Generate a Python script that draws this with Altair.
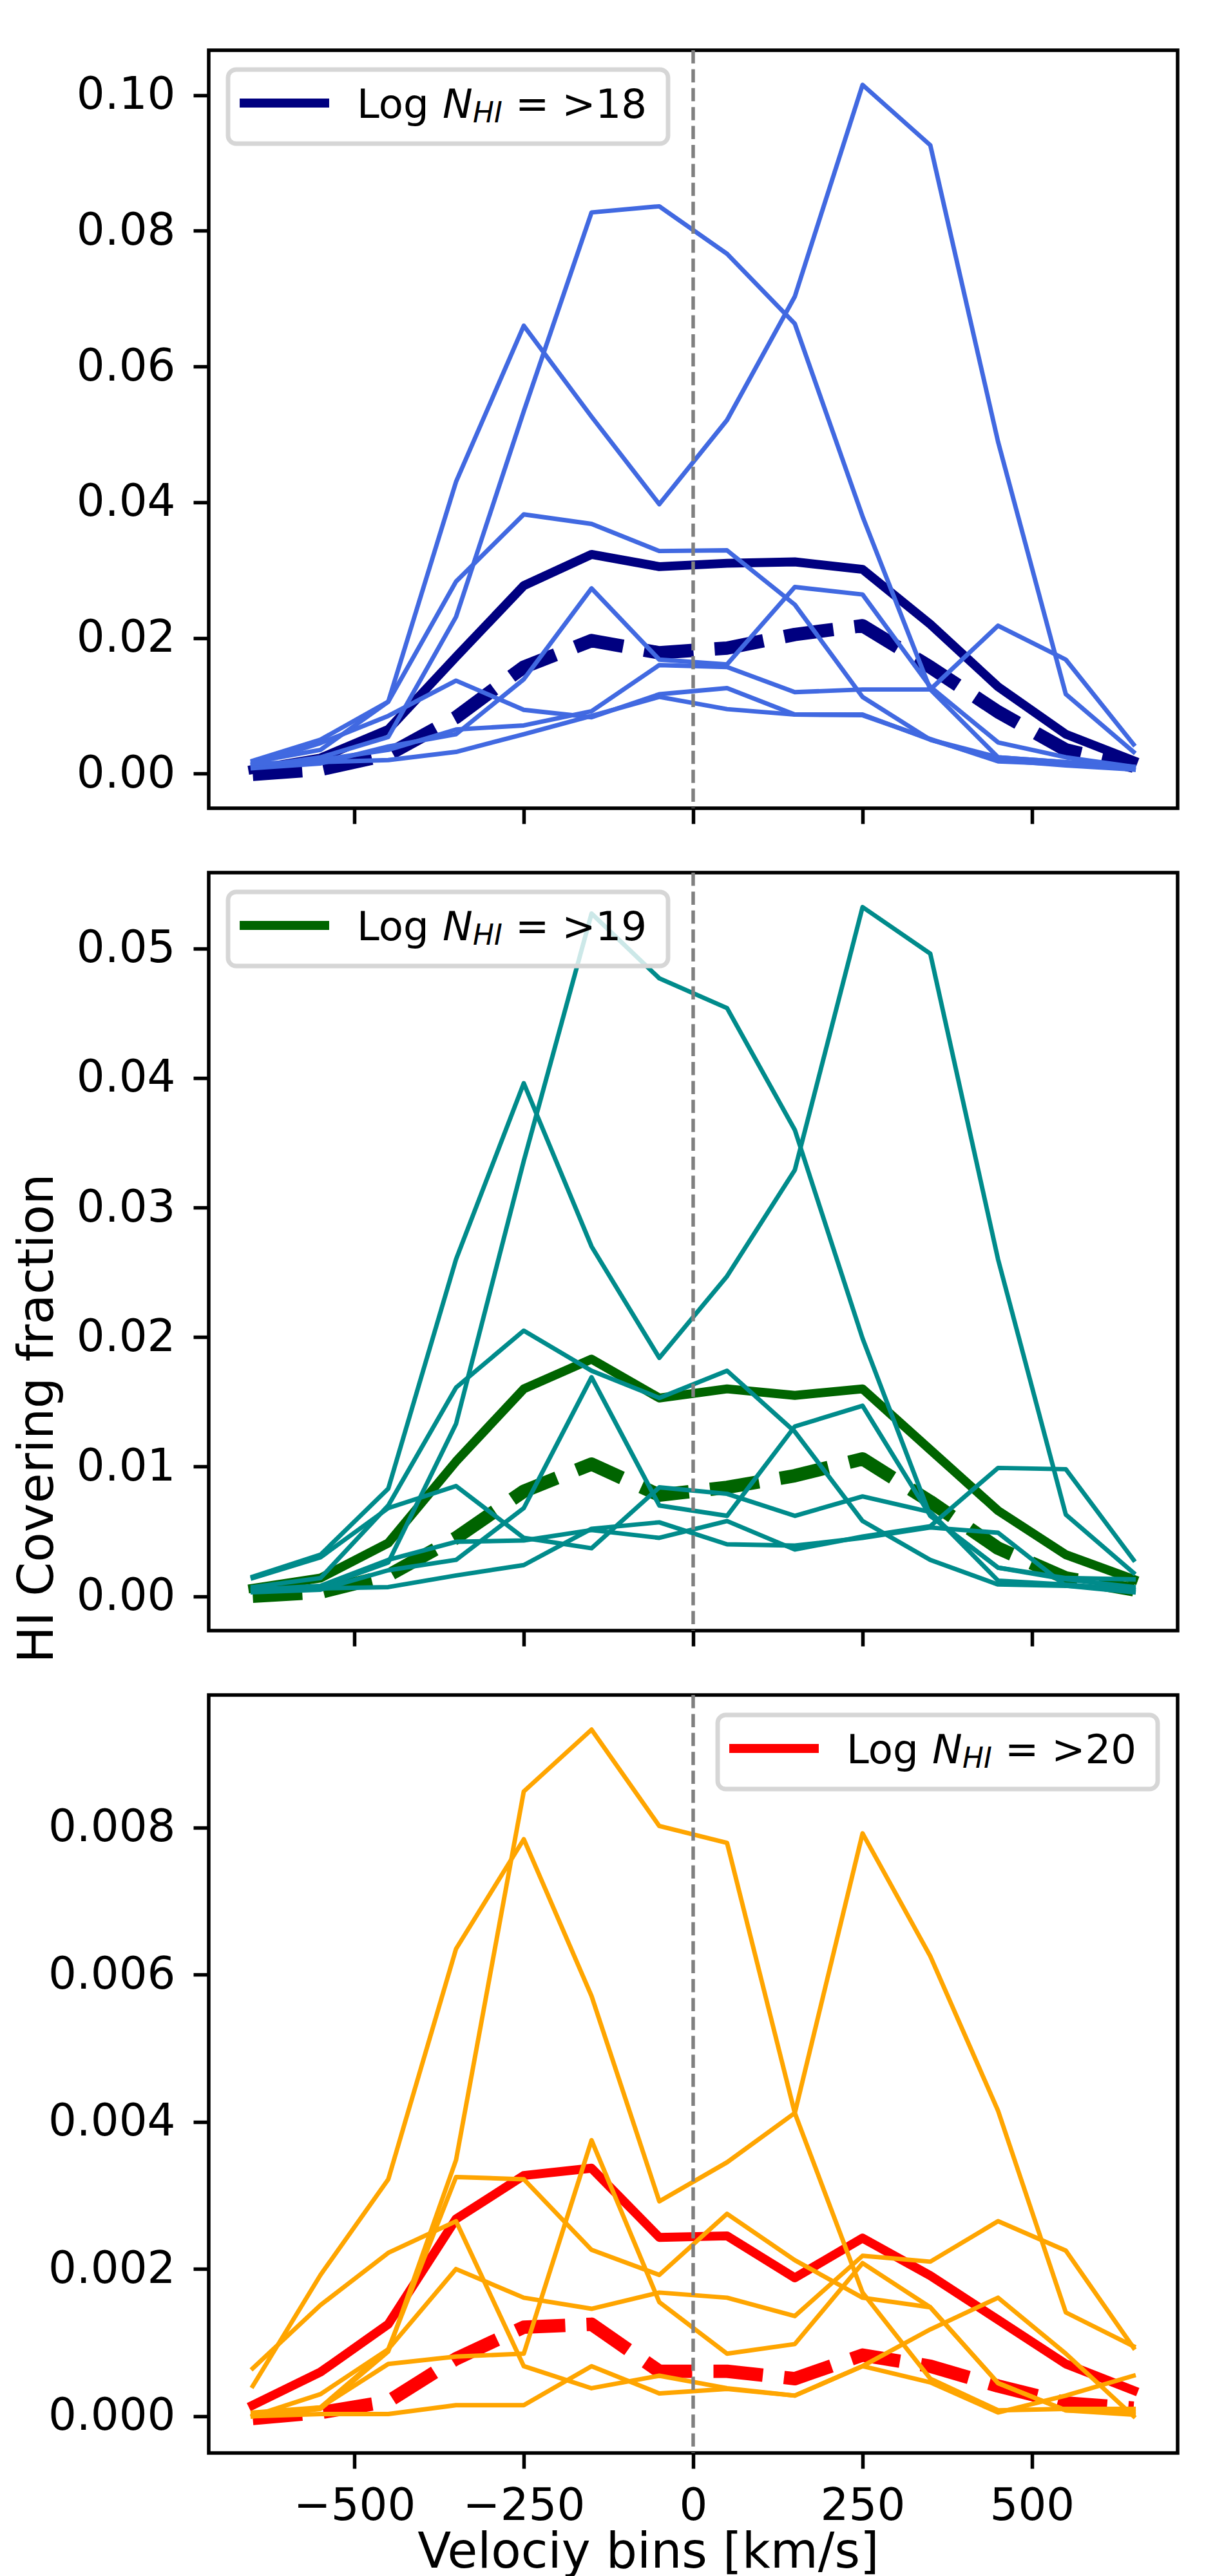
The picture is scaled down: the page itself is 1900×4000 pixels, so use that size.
import altair as alt
import pandas as pd

# ---------------- data ----------------
velocity = [-650, -550, -450, -350, -250, -150, -50, 50, 150, 250, 350, 450, 550, 650]

# panel 1: Log N_HI > 18
solid18 = [0.0006, 0.0023, 0.0065, 0.0172, 0.0277, 0.0323, 0.0305, 0.0310, 0.0312, 0.0301, 0.0220, 0.0128, 0.0058, 0.0019]
dashed18 = [-0.0001, 0.0006, 0.0028, 0.0083, 0.0157, 0.0196, 0.0178, 0.0185, 0.0205, 0.0218, 0.0157, 0.0091, 0.0035, 0.0011]
thin18_a = [0.0017, 0.0035, 0.0106, 0.0430, 0.0660, 0.0526, 0.0397, 0.0521, 0.0703, 0.1015, 0.0926, 0.0489, 0.0117, 0.0032]
thin18_b = [0.0010, 0.0024, 0.0054, 0.0231, 0.0534, 0.0827, 0.0836, 0.0766, 0.0663, 0.0379, 0.0124, 0.0024, 0.0017, 0.0006]
thin18_c = [0.0019, 0.0050, 0.0106, 0.0283, 0.0382, 0.0368, 0.0328, 0.0329, 0.0249, 0.0113, 0.0050, 0.0024, 0.0017, 0.0010]
thin18_d = [0.0008, 0.0015, 0.0040, 0.0058, 0.0139, 0.0273, 0.0168, 0.0161, 0.0275, 0.0264, 0.0128, 0.0046, 0.0024, 0.0010]
thin18_e = [0.0014, 0.0045, 0.0085, 0.0137, 0.0094, 0.0083, 0.0117, 0.0126, 0.0087, 0.0087, 0.0050, 0.0020, 0.0012, 0.0006]
thin18_f = [0.0012, 0.0020, 0.0035, 0.0065, 0.0071, 0.0092, 0.0160, 0.0157, 0.0120, 0.0124, 0.0124, 0.0218, 0.0168, 0.0043]
thin18_g = [0.0015, 0.0017, 0.0020, 0.0032, 0.0058, 0.0085, 0.0113, 0.0095, 0.0087, 0.0086, 0.0051, 0.0018, 0.0014, 0.0008]

# panel 2: Log N_HI > 19
solid19 = [0.0006, 0.0014, 0.0041, 0.0104, 0.0160, 0.0183, 0.0153, 0.0160, 0.0155, 0.0160, 0.0113, 0.0066, 0.0032, 0.0013]
dashed19 = [0.0000, 0.0003, 0.0016, 0.0045, 0.0081, 0.0102, 0.0078, 0.0084, 0.0093, 0.0106, 0.0073, 0.0037, 0.0014, 0.0005]
thin19_a = [0.0015, 0.0032, 0.0083, 0.0260, 0.0396, 0.0270, 0.0184, 0.0247, 0.0329, 0.0532, 0.0496, 0.0260, 0.0063, 0.0018]
thin19_b = [0.0005, 0.0007, 0.0026, 0.0133, 0.0336, 0.0527, 0.0477, 0.0454, 0.0360, 0.0199, 0.0062, 0.0022, 0.0014, 0.0013]
thin19_c = [0.0007, 0.0014, 0.0070, 0.0161, 0.0205, 0.0174, 0.0153, 0.0174, 0.0127, 0.0058, 0.0028, 0.0009, 0.0008, 0.0005]
thin19_d = [0.0003, 0.0005, 0.0020, 0.0028, 0.0068, 0.0169, 0.0070, 0.0062, 0.0131, 0.0147, 0.0062, 0.0022, 0.0013, 0.0007]
thin19_e = [0.0014, 0.0030, 0.0068, 0.0085, 0.0045, 0.0037, 0.0084, 0.0079, 0.0062, 0.0077, 0.0065, 0.0012, 0.0009, 0.0005]
thin19_f = [0.0005, 0.0008, 0.0028, 0.0042, 0.0043, 0.0051, 0.0045, 0.0058, 0.0036, 0.0046, 0.0054, 0.0099, 0.0098, 0.0028]
thin19_g = [0.0006, 0.0006, 0.0007, 0.0016, 0.0024, 0.0052, 0.0057, 0.0040, 0.0039, 0.0045, 0.0053, 0.0049, 0.0008, 0.0003]

# panel 3: Log N_HI > 20
solid20 = [0.00015, 0.00060, 0.00125, 0.00268, 0.00327, 0.00337, 0.00243, 0.00245, 0.00188, 0.00242, 0.00191, 0.00131, 0.00071, 0.00035]
dashed20 = [-0.00003, 0.00005, 0.00020, 0.00078, 0.00121, 0.00125, 0.00061, 0.00061, 0.00051, 0.00083, 0.00068, 0.00041, 0.00018, 0.00011]
thin20_a = [0.00041, 0.00192, 0.00322, 0.00635, 0.00784, 0.00571, 0.00292, 0.00345, 0.00412, 0.00792, 0.00625, 0.00415, 0.00141, 0.00095]
thin20_b = [0.00000, 0.00010, 0.00088, 0.00348, 0.00849, 0.00933, 0.00802, 0.00779, 0.00412, 0.00168, 0.00051, 0.00008, 0.00010, 0.00010]
thin20_c = [0.00000, 0.00012, 0.00091, 0.00325, 0.00322, 0.00226, 0.00192, 0.00275, 0.00212, 0.00161, 0.00148, 0.00045, 0.00008, 0.00005]
thin20_d = [0.00005, 0.00012, 0.00071, 0.00081, 0.00085, 0.00375, 0.00155, 0.00085, 0.00098, 0.00208, 0.00148, 0.00045, 0.00008, 0.00002]
thin20_e = [0.00000, 0.00030, 0.00091, 0.00200, 0.00161, 0.00146, 0.00168, 0.00161, 0.00136, 0.00218, 0.00210, 0.00265, 0.00225, 0.00093]
thin20_f = [0.00065, 0.00151, 0.00222, 0.00265, 0.00068, 0.00038, 0.00055, 0.00038, 0.00028, 0.00068, 0.00118, 0.00161, 0.00085, 0.00000]
thin20_g = [0.00000, 0.00003, 0.00003, 0.00015, 0.00015, 0.00068, 0.00031, 0.00037, 0.00028, 0.00068, 0.00046, 0.00005, 0.00028, 0.00055]

x_ticks = [-500, -250, 0, 250, 500]
y_ticks_18 = [0.0, 0.02, 0.04, 0.06, 0.08, 0.10]
y_ticks_19 = [0.0, 0.01, 0.02, 0.03, 0.04, 0.05]
y_ticks_20 = [0.0, 0.002, 0.004, 0.006, 0.008]
legend_thresholds = [">18", ">19", ">20"]
x_title = "Velociy bins [km/s]"
y_title = "HI Covering fraction"

# ---------------- styling ----------------
FONT = "DejaVu Sans"
PW, PH = 1504, 1177
LW_THIN = 6.94
LW_SOLID = 13.9
LW_DASH = 20.8
LEG_FS = 62.5


def long_df(series_list):
    rows = []
    for i, s in enumerate(series_list):
        for v, f in zip(velocity, s):
            rows.append({"v": v, "f": f, "s": "s%d" % i})
    return pd.DataFrame(rows)


one = pd.DataFrame({"k": [0]})


def panel(thin, solid, dashed, thin_color, thick_color, ydomain, yticks, yfmt,
          thr, box_x, box_y, last=False, with_ytitle=False):
    xaxis_kw = dict(values=x_ticks, labels=last, ticks=True, tickSize=24, labelLimit=0)
    if last:
        xaxis_kw.update(title=x_title, titleX=682, titleY=177, titleAlign="center",
                        titleBaseline="alphabetic", titleAnchor="start", labelPadding=24)
    else:
        xaxis_kw.update(title=None)
    x_enc = alt.X("v:Q", scale=alt.Scale(domain=[-715, 715], nice=False, zero=False),
                  axis=alt.Axis(**xaxis_kw))

    yaxis_kw = dict(values=yticks, format=yfmt, tickSize=24, labelPadding=28, labelLimit=0)
    if with_ytitle:
        yaxis_kw.update(title=y_title, titleX=-243, titleY=847, titleAngle=270,
                        titleAlign="center", titleBaseline="alphabetic")
    else:
        yaxis_kw.update(title=None)
    y_enc = alt.Y("f:Q", scale=alt.Scale(domain=ydomain, nice=False, zero=False),
                  axis=alt.Axis(**yaxis_kw))

    solid_l = alt.Chart(long_df([solid])).mark_line(
        color=thick_color, strokeWidth=LW_SOLID, strokeJoin="round", strokeCap="square"
    ).encode(x=x_enc, y=y_enc, detail="s:N")
    dashed_l = alt.Chart(long_df([dashed])).mark_line(
        color=thick_color, strokeWidth=LW_DASH, strokeDash=[77, 33], strokeJoin="round",
        strokeCap="butt"
    ).encode(x=x_enc, y=y_enc, detail="s:N")
    thin_l = alt.Chart(long_df(thin)).mark_line(
        color=thin_color, strokeWidth=LW_THIN, strokeJoin="round", strokeCap="square"
    ).encode(x=x_enc, y=y_enc, detail="s:N")
    zero_rule = alt.Chart(pd.DataFrame({"v": [0]})).mark_rule(
        color="gray", strokeWidth=5.5, strokeDash=[20.5, 8.9]
    ).encode(x=x_enc)

    # legend (matplotlib style, with mathtext-like label)
    box = alt.Chart(one).mark_rect(
        fill="white", fillOpacity=0.8, stroke="#d6d6d6", strokeWidth=6.9, cornerRadius=12.5
    ).encode(x=alt.value(box_x), x2=alt.value(box_x + 683),
             y=alt.value(box_y), y2=alt.value(box_y + 115))
    sample = alt.Chart(one).mark_rule(color=thick_color, strokeWidth=LW_SOLID,
                                      strokeCap="square").encode(
        x=alt.value(box_x + 25), x2=alt.value(box_x + 150), y=alt.value(box_y + 52))
    t_log = alt.Chart(one).mark_text(
        text="Log", align="left", baseline="alphabetic", font=FONT, fontSize=LEG_FS,
        color="black"
    ).encode(x=alt.value(box_x + 200), y=alt.value(box_y + 75))
    t_n = alt.Chart(one).mark_text(
        text="N", align="left", baseline="alphabetic", font=FONT, fontSize=LEG_FS,
        fontStyle="italic", color="black"
    ).encode(x=alt.value(box_x + 333), y=alt.value(box_y + 75))
    t_hi = alt.Chart(one).mark_text(
        text="HI", align="left", baseline="alphabetic", font=FONT, fontSize=LEG_FS * 0.7,
        fontStyle="italic", color="black"
    ).encode(x=alt.value(box_x + 380), y=alt.value(box_y + 82))
    t_eq = alt.Chart(one).mark_text(
        text="= " + thr, align="left", baseline="alphabetic", font=FONT, fontSize=LEG_FS,
        color="black"
    ).encode(x=alt.value(box_x + 446), y=alt.value(box_y + 75))

    return alt.layer(solid_l, dashed_l, thin_l, zero_rule, box, sample, t_log, t_n, t_hi, t_eq
                     ).properties(width=PW, height=PH)


p1 = panel([thin18_a, thin18_b, thin18_c, thin18_d, thin18_e, thin18_f, thin18_g],
           solid18, dashed18, "royalblue", "navy", [-0.0051, 0.1066], y_ticks_18, ".2f",
           legend_thresholds[0], 30, 30)
p2 = panel([thin19_a, thin19_b, thin19_c, thin19_d, thin19_e, thin19_f, thin19_g],
           solid19, dashed19, "darkcyan", "darkgreen", [-0.00266, 0.05586], y_ticks_19, ".2f",
           legend_thresholds[1], 30, 30, with_ytitle=True)
p3 = panel([thin20_a, thin20_b, thin20_c, thin20_d, thin20_e, thin20_f, thin20_g],
           solid20, dashed20, "orange", "red", [-0.0005, 0.0098], y_ticks_20, ".3f",
           legend_thresholds[2], 790, 31, last=True)

chart = alt.vconcat(p1, p2, p3, spacing=100, bounds="flush").properties(
    padding={"left": 9, "top": 64, "right": 20, "bottom": 0},
    background="white"
).configure_view(
    stroke="black", strokeWidth=5.5
).configure_axis(
    domain=False, grid=False, tickColor="black", tickWidth=5.5,
    labelFont=FONT, labelFontSize=69, labelColor="black",
    titleFont=FONT, titleFontSize=76, titleFontWeight="normal", titleColor="black"
)

chart.save("out.html", embed_options={"renderer": "svg", "actions": False})
